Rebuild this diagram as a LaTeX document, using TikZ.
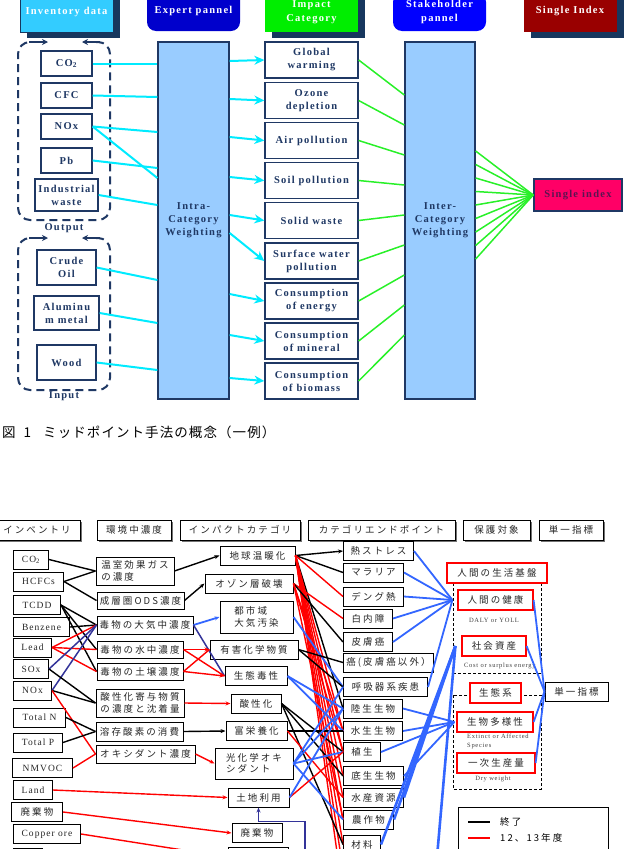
\documentclass[tikz,border=0pt]{standalone}
\usepackage{fontspec}
\setmainfont{Liberation Serif}
\newfontfamily\tsb[LetterSpace=12]{Liberation Serif}
\newfontfamily\lsr[LetterSpace=11]{Liberation Serif}
\newfontfamily\jp[LetterSpace=22]{Noto Sans CJK JP}
\newfontfamily\jpc[LetterSpace=8]{Noto Sans CJK JP}
\usetikzlibrary{arrows.meta, positioning, shadows, calc}

\definecolor{shd}{RGB}{23,55,94}
\definecolor{nvy}{RGB}{31,56,100}
\definecolor{invc}{RGB}{51,204,255}
\definecolor{expc}{RGB}{0,0,204}
\definecolor{impc}{RGB}{0,238,0}
\definecolor{stkc}{RGB}{0,0,255}
\definecolor{sglc}{RGB}{153,0,0}
\definecolor{wgtc}{RGB}{153,204,255}
\definecolor{sidc}{RGB}{255,0,102}
\definecolor{sidt}{RGB}{90,20,80}
\definecolor{cyn}{RGB}{0,235,255}
\definecolor{grn}{RGB}{40,240,40}
\definecolor{bl}{RGB}{51,102,255}
\definecolor{nvl}{RGB}{51,51,153}
\definecolor{rd}{RGB}{255,0,0}

\tikzset{
  hdr/.style={rectangle, minimum width=93pt, text=white, align=center, inner sep=1pt,
    font=\tsb\bfseries\fontsize{10.5}{14}\selectfont},
  shdw/.style={drop shadow={shadow xshift=7pt, shadow yshift=-6pt, fill=shd, opacity=1}},
  itm/.style={draw=nvy, line width=1.3pt, fill=white, text=nvy, align=center, inner sep=1pt,
    font=\tsb\bfseries\fontsize{10.5}{13}\selectfont},
  wgt/.style={itm, fill=wgtc, minimum width=71pt, minimum height=357pt},
  grp/.style={draw=nvy, line width=2pt, dash pattern=on 8pt off 5pt, rounded corners=12pt},
  grpar/.style={draw=nvy, line width=2pt, -{Stealth[length=6pt,width=6pt]}},
  grplbl/.style={text=nvy, inner sep=0pt, font=\tsb\bfseries\fontsize{10.5}{13}\selectfont},
  cyl/.style={draw=cyn, line width=2pt},
  cya/.style={cyl, -{Stealth[length=10pt,width=9pt]}},
  gnl/.style={draw=grn, line width=1.5pt},
  % bottom chart
  jb/.style={draw, line width=1pt, fill=white, text=black!85, align=left, inner sep=2pt,
    minimum height=19pt, font=\jp\fontsize{9.5}{11.5}\selectfont},
  rb/.style={jb, draw=rd, line width=1.2pt, minimum height=20pt},
  lb/.style={jb, anchor=west, font=\lsr\fontsize{9.5}{11}\selectfont},
  hb/.style={jb, minimum height=20pt,
    drop shadow={shadow xshift=1.5pt, shadow yshift=-1.5pt, fill=black!55, opacity=1}},
  note/.style={text=black!75, inner sep=0pt, align=left, font=\lsr\fontsize{6.5}{8.5}\selectfont},
  bk/.style={draw=black, line width=1.4pt},
  rl/.style={draw=rd, line width=1.4pt},
  bll/.style={draw=bl, line width=1.8pt},
  nl/.style={draw=nvl, line width=1.5pt},
  arr/.style={-{Stealth[length=5pt,width=4pt]}},
  dsh/.style={draw=black, line width=0.9pt, dash pattern=on 3pt off 2pt}
}

\begin{document}
\begin{tikzpicture}[x=1pt, y=-1pt]
\useasboundingbox (0,0) rectangle (625,849);
\clip (0,0) rectangle (625,849);

% column headers
\node[hdr, shdw, fill=invc, draw=shd, minimum height=40pt] (hinv) at (66.5,12) {Inventory data};
\node[hdr, fill=expc, rounded corners=9pt, minimum height=40pt] (hexp) at (193.5,11) {Expert pannel};
\node[hdr, shdw, fill=impc, minimum height=40pt] (himp) at (311.5,12) {Impact\\Category};
\node[hdr, fill=stkc, rounded corners=9pt, minimum height=38pt] (hstk) at (439.5,12) {Stakeholder\\pannel};
\node[hdr, shdw, fill=sglc, minimum height=42pt] (hsgl) at (570,11) {Single Index};

% output / input groups
\draw[grp] (96,42) -- (110,42) -- (110,220) -- (18,220) -- (18,42) -- (32,42);
\draw[grpar] (29,42) -- (48,42);
\draw[grpar] (100,42) -- (82,42);
\node[grplbl] (outl) at (64,228) {Output};
\draw[grp] (96,238) -- (110,238) -- (110,390) -- (18,390) -- (18,238) -- (32,238);
\draw[grpar] (29,238) -- (48,238);
\draw[grpar] (100,238) -- (82,238);
\node[grplbl] (inl) at (64,396) {Input};

% inventory items
\node[itm, minimum width=51pt, minimum height=25pt] (co2) at (66.5,63.5) {CO\textsubscript{2}};
\node[itm, minimum width=51pt, minimum height=25pt] (cfc) at (66.5,95.5) {CFC};
\node[itm, minimum width=51pt, minimum height=25pt] (nox) at (66.5,126.5) {NOx};
\node[itm, minimum width=51pt, minimum height=25pt] (pb) at (66.5,160.5) {Pb};
\node[itm, minimum width=63pt, minimum height=32pt] (iwst) at (66.5,195) {Industrial\\waste};
\node[itm, minimum width=59pt, minimum height=35pt] (crd) at (66.5,267.5) {Crude\\Oil};
\node[itm, minimum width=65pt, minimum height=34pt] (alu) at (66.5,313) {Aluminu\\m metal};
\node[itm, minimum width=59pt, minimum height=35pt] (wod) at (66.5,362.5) {Wood};

% weighting columns
\node[wgt] (intra) at (193.5,220.5) {Intra-\\Category\\Weighting};
\node[wgt, minimum width=70pt] (inter) at (440,220.5) {Inter-\\Category\\Weighting};

% impact categories
\node[itm, minimum width=93pt, minimum height=36pt] (gwm) at (311.5,60) {Global\\warming};
\node[itm, minimum width=93pt, minimum height=36pt] (ozn) at (311.5,100.5) {Ozone\\depletion};
\node[itm, minimum width=93pt, minimum height=36pt] (air) at (311.5,140.5) {Air pollution};
\node[itm, minimum width=93pt, minimum height=36pt] (soil) at (311.5,180.5) {Soil pollution};
\node[itm, minimum width=93pt, minimum height=36pt] (sld) at (311.5,220.5) {Solid waste};
\node[itm, minimum width=93pt, minimum height=36pt] (sfw) at (311.5,261) {Surface water\\pollution};
\node[itm, minimum width=93pt, minimum height=36pt] (cen) at (311.5,301) {Consumption\\of energy};
\node[itm, minimum width=93pt, minimum height=36pt] (cmn) at (311.5,341) {Consumption\\of mineral};
\node[itm, minimum width=93pt, minimum height=36pt] (cbm) at (311.5,381) {Consumption\\of biomass};

\node[itm, fill=sidc, text=sidt, line width=1.5pt, minimum width=88pt, minimum height=32pt] (sidx) at (578,195) {Single index};

% inventory -> intra
\foreach \s/\d in {co2/0, cfc/1.5, nox/5.5, nox/51.5, pb/7.5, iwst/10, crd/12.5, alu/10, wod/7.5}
  \draw[cyl] (\s.east) -- ($(\s.east -| intra.west)+(0,\d)$);

% intra -> impact categories
\foreach \t/\d in {gwm/1, ozn/-1.5, air/-3.5, soil/-3.5, sld/-5.5, sfw/-28, cen/-7, cmn/-6, cbm/-3}
  \draw[cya] ($(\t.west -| intra.east)+(0,\d)$) -- (\t.west);

% impact categories -> inter -> single index
\foreach \t [count=\i] in {gwm,ozn,air,soil,sld,sfw,cen,cmn,cbm}
  \draw[gnl] (\t.east) -- ($(inter.west)+(0,{30*\i-155.5})$);
\foreach \i in {1,...,9}
  \draw[gnl] ($(inter.east)+(0,{13.5*\i-83})$) -- (sidx.west);

% caption
\node[anchor=west, inner sep=0pt, font=\jpc\fontsize{13.5}{15}\selectfont] (cap) at (2,432)
  {図\hspace{8pt}1\hspace{12pt}ミッドポイント手法の概念（一例）};

% ---- bottom chart ----
\node[hb, minimum width=86pt] (b1) at (37,530) {インベントリ};
\node[hb, minimum width=74pt] (b2) at (134,530) {環境中濃度};
\node[hb, minimum width=120pt] (b3) at (240,530) {インパクトカテゴリ};
\node[hb, minimum width=147pt] (b4) at (381.5,530) {カテゴリエンドポイント};
\node[hb, minimum width=67pt] (b5) at (496.5,530) {保護対象};
\node[hb, minimum width=64pt] (b6) at (571,530) {単一指標};

% inventory
\node[lb, minimum width=35pt] (bco2) at (13,559.5) {CO\textsubscript{2}};
\node[lb, minimum width=50pt] (hcfc) at (13,581.5) {HCFCs};
\node[lb, minimum width=47pt] (tcdd) at (13,605) {TCDD};
\node[lb, minimum width=56pt] (benz) at (13,627) {Benzene};
\node[lb, minimum width=38pt] (lead) at (13,647.5) {Lead};
\node[lb, minimum width=35pt] (sox) at (13,669) {SOx};
\node[lb, minimum width=38pt] (bnox) at (13,690.5) {NOx};
\node[lb, minimum width=52pt] (totn) at (13,717.5) {Total N};
\node[lb, minimum width=49pt] (totp) at (13,742.5) {Total P};
\node[lb, minimum width=60pt] (nmvoc) at (12,768) {NMVOC};
\node[lb, minimum width=39pt] (land) at (13,790) {Land};
\node[jb, anchor=west, minimum width=51pt] (bwst) at (11,812) {廃棄物};
\node[lb, minimum width=67pt] (copr) at (13,834) {Copper ore};
\node[lb, minimum width=29pt] (binv) at (13,858) {};

% environmental concentration
\node[jb, minimum width=78pt, minimum height=28pt] (c1) at (135,571) {温室効果ガス\\の濃度};
\node[jb, minimum width=87pt, minimum height=17pt] (c2) at (140.5,600.5) {成層圏ODS濃度};
\node[jb, minimum width=96pt, minimum height=18pt] (c3) at (145,625) {毒物の大気中濃度};
\node[jb, minimum width=86pt, minimum height=17pt] (c4) at (140,649.5) {毒物の水中濃度};
\node[jb, minimum width=86pt, minimum height=17pt] (c5) at (140,671.5) {毒物の土壌濃度};
\node[jb, minimum width=88pt, minimum height=28pt] (c6) at (140,703) {酸性化寄与物質\\の濃度と沈着量};
\node[jb, minimum width=87pt] (c7) at (139.5,731.5) {溶存酸素の消費};
\node[jb, minimum width=99pt, minimum height=18pt] (c8) at (145.5,754) {オキシダント濃度};

% impact categories
\node[jb, minimum width=75pt] (gw) at (257.5,555.5) {地球温暖化};
\node[jb, minimum width=88pt] (ozd) at (249,583.5) {オゾン層破壊};
\node[jb, minimum width=73pt, minimum height=32pt] (uap) at (256.5,617) {都市域\\大気汚染};
\node[jb, minimum width=88pt] (hcs) at (254,649.5) {有害化学物質};
\node[jb, minimum width=62pt] (eco) at (256,676) {生態毒性};
\node[jb, minimum width=50pt] (acd) at (256,703.5) {酸性化};
\node[jb, minimum width=61pt] (eut) at (256.5,731) {富栄養化};
\node[jb, minimum width=78pt, minimum height=31pt] (pox) at (254,763.5) {光化学オキ\\シダント};
\node[jb, minimum width=61pt] (lnd) at (258.5,797.5) {土地利用};
\node[jb, minimum width=50pt] (wst) at (257,833) {廃棄物};
\node[jb, minimum width=60pt] (bimp) at (258,857) {};

% category endpoints
\node[jb, anchor=west, minimum width=70pt] (ep1) at (343,551) {熱ストレス};
\node[jb, anchor=west, minimum width=60pt] (ep2) at (343,572.5) {マラリア};
\node[jb, anchor=west, minimum width=60pt] (ep3) at (343,596.5) {デング熱};
\node[jb, anchor=west, minimum width=49pt] (ep4) at (343,618.5) {白内障};
\node[jb, anchor=west, minimum width=49pt] (ep5) at (343,642) {皮膚癌};
\node[jb, anchor=west, minimum width=90pt] (ep6) at (343,662.5) {癌(皮膚癌以外）};
\node[jb, anchor=west, minimum width=84pt] (ep7) at (343,687) {呼吸器系疾患};
\node[jb, anchor=west, minimum width=59pt] (ep8) at (343,708.5) {陸生生物};
\node[jb, anchor=west, minimum width=59pt] (ep9) at (343,731) {水生生物};
\node[jb, anchor=west, minimum width=37pt] (ep10) at (343,752) {植生};
\node[jb, anchor=west, minimum width=60pt] (ep11) at (343,776) {底生生物};
\node[jb, anchor=west, minimum width=60pt] (ep12) at (343,797.5) {水産資源};
\node[jb, anchor=west, minimum width=50pt] (ep13) at (343,819.5) {農作物};
\node[jb, anchor=west, minimum width=37pt] (ep14) at (343,844.5) {材料};
\coordinate (ep15) at (343,870);
\coordinate (ep16) at (343,895);

% protection targets
\draw[dsh] (453,583) rectangle (541,673);
\draw[dsh] (453,695) rectangle (541,789);
\node[rb, minimum width=100pt] (hl) at (497,573) {人間の生活基盤};
\node[rb, minimum width=75pt] (hh) at (495.5,600) {人間の健康};
\node[note] (daly) at (494,620) {DALY or YOLL};
\node[rb, minimum width=64pt] (sa) at (494,646) {社会資産};
\node[note, anchor=west] (cost) at (464,666) {Cost or surplus energy};
\node[rb, minimum width=51pt] (ecs) at (495.5,693) {生態系};
\node[rb, minimum width=76pt] (bd) at (495,722) {生物多様性};
\node[note, anchor=north west] (ext) at (467,734) {Extinct or Affected\\Species};
\node[rb, minimum width=78pt] (pp) at (496,763) {一次生産量};
\node[note] (dry) at (493,779) {Dry weight};
\node[jb, minimum width=63pt] (si) at (576.5,691.5) {単一指標};

% legend
\draw[line width=1pt] (458,807) rectangle (608,880);
\node[anchor=west, inner sep=0pt, font=\jp\fontsize{9.5}{11}\selectfont] (lg1) at (500,822) {終了};
\node[anchor=west, inner sep=0pt, font=\jp\fontsize{9.5}{11}\selectfont] (lg2) at (500,838) {12、13年度};
\draw[bk] ([xshift=-32pt]lg1.west) -- ([xshift=-10pt]lg1.west);
\draw[rl] ([xshift=-32pt]lg2.west) -- ([xshift=-10pt]lg2.west);

% inventory -> concentration
\draw[bk] (bco2.east) -- (c1.west);
\draw[bk] (hcfc.east) -- (c1.west);
\draw[bk] (hcfc.east) -- (c2.west);
\foreach \t in {c3,c4,c5} \draw[bk] (tcdd.east) -- (\t.west);
\draw[bk] (benz.east) -- (c3.west);
\foreach \t in {c3,c4,c5} \draw[rl] (lead.east) -- (\t.west);
\draw[nl] (sox.east) -- (c3.west);
\draw[nl] (bnox.east) -- (c3.west);
\draw[bk] (sox.east) -- (c6.west);
\draw[bk] (bnox.east) -- (c6.west);
\draw[rl] (bnox.east) -- (c8.west);
\draw[bk] (totn.east) -- (c7.west);
\draw[bk] (totp.east) -- (c7.west);
\draw[rl] (nmvoc.east) -- (c8.west);
\draw[rl, arr] (land.east) -- (lnd.west);
\draw[rl, arr] (bwst.east) -- (wst.west);
\draw[rl] (copr.east) -- (bimp.west);

% concentration -> impact
\draw[bk, arr] (c1.east) -- (gw.west);
\draw[bk, arr] (c2.east) -- (ozd.west);
\draw[bll, arr] (c3.east) -- (uap.west);
\draw[nl] (c3.east) -- (eco.west);
\draw[rl, arr] (c4.east) -- (hcs.west);
\draw[rl] (c4.east) -- (eco.west);
\draw[rl] (c5.east) -- (hcs.west);
\draw[rl, arr] (c5.east) -- (eco.west);
\draw[rl, arr] (c6.east) -- (acd.west);
\draw[bk, arr] (c7.east) -- (eut.west);
\draw[rl, arr] (c8.east) -- (pox.west);
\coordinate (nvft) at (305,870);
\draw[nl, arr] (nvft) |- ([yshift=-14pt]lnd.south) -- (lnd.south);

% impact -> endpoints
\draw[bk, arr] (gw.east) -- (ep1.west);
\draw[bk] (gw.east) -- (ep2.west);
\draw[rl] (gw.east) -- (ep3.west);
\draw[bk] (gw.east) -- (ep8.west);
\foreach \t in {ep9,ep10,ep11,ep12,ep13,ep14,ep15,ep16} \draw[rl] (gw.east) -- (\t.west);
\draw[rl] (ozd.east) -- (ep4.west);
\draw[bk] (ozd.east) -- (ep5.west);
\foreach \t in {ep9,ep10,ep13} \draw[rl] (ozd.east) -- (\t.west);
\draw[bll] (uap.east) -- (ep7.west);
\draw[bk] (hcs.east) -- (ep6.west);
\draw[bk] (hcs.east) -- (ep7.west);
\draw[bll] (eco.east) -- (ep8.west);
\draw[bll] (eco.east) -- (ep9.west);
\foreach \t in {ep10,ep11,ep14} \draw[bk] (acd.east) -- (\t.west);
\draw[bk] (eut.east) -- (ep9.west);
\draw[rl] (eut.east) -- (ep12.west);
\foreach \t in {ep7,ep8,ep10,ep13} \draw[bll] (pox.east) -- (\t.west);
\draw[rl] (lnd.east) -- (ep10.west);
\draw[bll] (lnd.east) -- (ep8.west);

% endpoints -> protection targets -> single index
\coordinate (hhin) at ([xshift=-5pt]hh.west);
\coordinate (bdin) at ([xshift=-2pt]bd.west);
\coordinate (sain) at ([xshift=-6pt]sa.west);
\coordinate (offa) at (435,880);
\foreach \s in {ep1,ep2,ep3,ep4,ep5,ep7} \draw[bll] (\s.east) -- (hhin);
\foreach \s in {ep8,ep9,ep10,ep11} \draw[bll] (\s.east) -- (bdin);
\foreach \s in {ep12,ep13,ep14} \draw[bll, line width=2.6pt] (\s.east) -- (sain);
\draw[bll, line width=2.6pt] (offa) -- (sain);
\foreach \s in {hh,sa,bd,pp} \draw[bll] (\s.east) -- (si.west);
\end{tikzpicture}
\end{document}
